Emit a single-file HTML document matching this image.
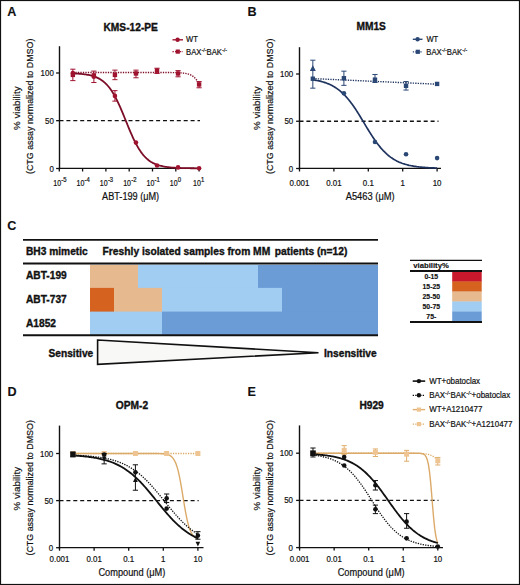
<!DOCTYPE html><html><head><meta charset="utf-8"><style>html,body{margin:0;padding:0;background:#fff;width:520px;height:585px;overflow:hidden}svg text{font-family:"Liberation Sans",sans-serif}</style></head><body><svg width="520" height="585" viewBox="0 0 520 585" style="display:block;font-family:'Liberation Sans', sans-serif">
<rect x="0" y="0" width="520" height="585" fill="#fff"/>
<text x="7.3" y="16.3" font-size="12.6" text-anchor="start" font-weight="bold" stroke="#111" stroke-width="0.1" fill="#111" >A</text>
<text x="130.7" y="30.6" font-size="10.2" text-anchor="middle" font-weight="bold" stroke="#111" stroke-width="0.35" fill="#111" >KMS-12-PE</text>
<text transform="translate(19.5,108.2) rotate(-90)" font-size="9.8" text-anchor="middle" fill="#111" stroke="#111" stroke-width="0.2" textLength="43.5" lengthAdjust="spacingAndGlyphs">% viability</text>
<text transform="translate(33.2,106.3) rotate(-90)" font-size="9.6" text-anchor="middle" fill="#111" stroke="#111" stroke-width="0.2" textLength="135.5" lengthAdjust="spacingAndGlyphs">(CTG assay normalized to DMSO)</text>
<line x1="59.5" y1="46.2" x2="59.5" y2="169.2" stroke="#111" stroke-width="1.4" />
<line x1="56.1" y1="168.5" x2="59.5" y2="168.5" stroke="#111" stroke-width="1.3" />
<text transform="translate(53.8,171.5) scale(0.88,1)" font-size="9" text-anchor="end" stroke="#111" stroke-width="0.2" fill="#111" >0</text>
<line x1="56.1" y1="120.67" x2="59.5" y2="120.67" stroke="#111" stroke-width="1.3" />
<text transform="translate(53.8,123.67) scale(0.88,1)" font-size="9" text-anchor="end" stroke="#111" stroke-width="0.2" fill="#111" >50</text>
<line x1="56.1" y1="73" x2="59.5" y2="73" stroke="#111" stroke-width="1.3" />
<text transform="translate(53.8,76) scale(0.88,1)" font-size="9" text-anchor="end" stroke="#111" stroke-width="0.2" fill="#111" >100</text>
<line x1="58.8" y1="168.4" x2="201" y2="168.4" stroke="#111" stroke-width="1.4" />
<line x1="59.3" y1="168.5" x2="59.3" y2="171.5" stroke="#111" stroke-width="1.3" />
<text transform="translate(61.1,185.8) scale(0.8,1)" font-size="8.8" text-anchor="end" stroke="#111" stroke-width="0.2" fill="#111" >10</text>
<text transform="translate(61.3,182.2) scale(0.9,1)" font-size="6.6" text-anchor="start" stroke="#111" stroke-width="0.2" fill="#111" >-5</text>
<line x1="82.6" y1="168.5" x2="82.6" y2="171.5" stroke="#111" stroke-width="1.3" />
<text transform="translate(84.4,185.8) scale(0.8,1)" font-size="8.8" text-anchor="end" stroke="#111" stroke-width="0.2" fill="#111" >10</text>
<text transform="translate(84.6,182.2) scale(0.9,1)" font-size="6.6" text-anchor="start" stroke="#111" stroke-width="0.2" fill="#111" >-4</text>
<line x1="105.9" y1="168.5" x2="105.9" y2="171.5" stroke="#111" stroke-width="1.3" />
<text transform="translate(107.7,185.8) scale(0.8,1)" font-size="8.8" text-anchor="end" stroke="#111" stroke-width="0.2" fill="#111" >10</text>
<text transform="translate(107.9,182.2) scale(0.9,1)" font-size="6.6" text-anchor="start" stroke="#111" stroke-width="0.2" fill="#111" >-3</text>
<line x1="129.2" y1="168.5" x2="129.2" y2="171.5" stroke="#111" stroke-width="1.3" />
<text transform="translate(131,185.8) scale(0.8,1)" font-size="8.8" text-anchor="end" stroke="#111" stroke-width="0.2" fill="#111" >10</text>
<text transform="translate(131.2,182.2) scale(0.9,1)" font-size="6.6" text-anchor="start" stroke="#111" stroke-width="0.2" fill="#111" >-2</text>
<line x1="152.5" y1="168.5" x2="152.5" y2="171.5" stroke="#111" stroke-width="1.3" />
<text transform="translate(154.3,185.8) scale(0.8,1)" font-size="8.8" text-anchor="end" stroke="#111" stroke-width="0.2" fill="#111" >10</text>
<text transform="translate(154.5,182.2) scale(0.9,1)" font-size="6.6" text-anchor="start" stroke="#111" stroke-width="0.2" fill="#111" >-1</text>
<line x1="175.8" y1="168.5" x2="175.8" y2="171.5" stroke="#111" stroke-width="1.3" />
<text transform="translate(177.6,185.8) scale(0.8,1)" font-size="8.8" text-anchor="end" stroke="#111" stroke-width="0.2" fill="#111" >10</text>
<text transform="translate(177.8,182.2) scale(0.9,1)" font-size="6.6" text-anchor="start" stroke="#111" stroke-width="0.2" fill="#111" >0</text>
<line x1="199.1" y1="168.5" x2="199.1" y2="171.5" stroke="#111" stroke-width="1.3" />
<text transform="translate(200.9,185.8) scale(0.8,1)" font-size="8.8" text-anchor="end" stroke="#111" stroke-width="0.2" fill="#111" >10</text>
<text transform="translate(201.1,182.2) scale(0.9,1)" font-size="6.6" text-anchor="start" stroke="#111" stroke-width="0.2" fill="#111" >1</text>
<text x="130.6" y="199.8" font-size="10.0" text-anchor="middle" stroke="#111" stroke-width="0.2" fill="#111" textLength="57" lengthAdjust="spacingAndGlyphs">ABT-199 (μM)</text>
<line x1="59.5" y1="120.67" x2="200" y2="120.67" stroke="#111" stroke-width="1.35" stroke-dasharray="4,2.9"/>
<path d="M72.85,72.52 L73.9,72.52 L74.95,72.52 L76,72.52 L77.06,72.52 L78.11,72.52 L79.16,72.52 L80.21,72.52 L81.26,72.52 L82.32,72.52 L83.37,72.52 L84.42,72.52 L85.47,72.52 L86.53,72.52 L87.58,72.52 L88.63,72.52 L89.68,72.52 L90.73,72.52 L91.79,72.52 L92.84,72.52 L93.89,72.52 L94.94,72.52 L95.99,72.52 L97.05,72.52 L98.1,72.52 L99.15,72.52 L100.2,72.52 L101.25,72.52 L102.31,72.52 L103.36,72.52 L104.41,72.52 L105.46,72.52 L106.52,72.52 L107.57,72.52 L108.62,72.52 L109.67,72.52 L110.72,72.52 L111.78,72.52 L112.83,72.52 L113.88,72.52 L114.93,72.52 L115.98,72.52 L117.04,72.52 L118.09,72.52 L119.14,72.52 L120.19,72.52 L121.24,72.52 L122.3,72.52 L123.35,72.52 L124.4,72.52 L125.45,72.52 L126.51,72.52 L127.56,72.52 L128.61,72.52 L129.66,72.52 L130.71,72.52 L131.77,72.52 L132.82,72.52 L133.87,72.52 L134.92,72.52 L135.97,72.52 L137.03,72.52 L138.08,72.52 L139.13,72.52 L140.18,72.52 L141.23,72.52 L142.29,72.52 L143.34,72.52 L144.39,72.52 L145.44,72.52 L146.5,72.52 L147.55,72.52 L148.6,72.52 L149.65,72.52 L150.7,72.52 L151.76,72.52 L152.81,72.52 L153.86,72.52 L154.91,72.53 L155.96,72.53 L157.02,72.53 L158.07,72.53 L159.12,72.53 L160.17,72.53 L161.22,72.53 L162.28,72.53 L163.33,72.53 L164.38,72.54 L165.43,72.54 L166.48,72.54 L167.54,72.55 L168.59,72.55 L169.64,72.56 L170.69,72.57 L171.75,72.58 L172.8,72.6 L173.85,72.61 L174.9,72.63 L175.95,72.66 L177.01,72.69 L178.06,72.73 L179.11,72.78 L180.16,72.83 L181.21,72.9 L182.27,72.99 L183.32,73.1 L184.37,73.23 L185.42,73.4 L186.47,73.6 L187.53,73.84 L188.58,74.14 L189.63,74.5 L190.68,74.95 L191.74,75.49 L192.79,76.16 L193.84,76.96 L194.89,77.92 L195.94,79.09 L197,80.48 L198.05,82.13 L199.1,84.08" fill="none" stroke="#7c0d27" stroke-width="1.4" stroke-dasharray="1.3,1.2" stroke-linecap="butt"/>
<path d="M72.85,73.39 L73.9,73.44 L74.95,73.48 L76,73.54 L77.06,73.6 L78.11,73.67 L79.16,73.75 L80.21,73.83 L81.26,73.93 L82.32,74.04 L83.37,74.15 L84.42,74.28 L85.47,74.43 L86.53,74.59 L87.58,74.77 L88.63,74.97 L89.68,75.2 L90.73,75.44 L91.79,75.72 L92.84,76.02 L93.89,76.36 L94.94,76.73 L95.99,77.14 L97.05,77.59 L98.1,78.09 L99.15,78.65 L100.2,79.26 L101.25,79.93 L102.31,80.66 L103.36,81.47 L104.41,82.35 L105.46,83.31 L106.52,84.36 L107.57,85.49 L108.62,86.73 L109.67,88.06 L110.72,89.5 L111.78,91.04 L112.83,92.69 L113.88,94.45 L114.93,96.32 L115.98,98.3 L117.04,100.38 L118.09,102.56 L119.14,104.83 L120.19,107.18 L121.24,109.61 L122.3,112.1 L123.35,114.64 L124.4,117.22 L125.45,119.82 L126.51,122.42 L127.56,125.01 L128.61,127.58 L129.66,130.1 L130.71,132.57 L131.77,134.98 L132.82,137.3 L133.87,139.55 L134.92,141.69 L135.97,143.74 L137.03,145.68 L138.08,147.51 L139.13,149.23 L140.18,150.85 L141.23,152.35 L142.29,153.75 L143.34,155.05 L144.39,156.25 L145.44,157.36 L146.5,158.38 L147.55,159.31 L148.6,160.17 L149.65,160.95 L150.7,161.66 L151.76,162.31 L152.81,162.9 L153.86,163.43 L154.91,163.92 L155.96,164.36 L157.02,164.75 L158.07,165.11 L159.12,165.44 L160.17,165.73 L161.22,165.99 L162.28,166.23 L163.33,166.45 L164.38,166.64 L165.43,166.81 L166.48,166.97 L167.54,167.11 L168.59,167.24 L169.64,167.35 L170.69,167.45 L171.75,167.55 L172.8,167.63 L173.85,167.7 L174.9,167.77 L175.95,167.83 L177.01,167.88 L178.06,167.93 L179.11,167.97 L180.16,168.01 L181.21,168.05 L182.27,168.08 L183.32,168.11 L184.37,168.13 L185.42,168.15 L186.47,168.17 L187.53,168.19 L188.58,168.21 L189.63,168.22 L190.68,168.24 L191.74,168.25 L192.79,168.26 L193.84,168.27 L194.89,168.28 L195.94,168.28 L197,168.29 L198.05,168.3 L199.1,168.3" fill="none" stroke="#7c0d27" stroke-width="1.8" stroke-linecap="butt"/>
<line x1="72.85" y1="80.63" x2="72.85" y2="69.19" stroke="#a0132f" stroke-width="1.0" />
<line x1="70.25" y1="80.63" x2="75.45" y2="80.63" stroke="#a0132f" stroke-width="1.0" />
<line x1="70.25" y1="69.19" x2="75.45" y2="69.19" stroke="#a0132f" stroke-width="1.0" />
<rect x="70.65" y="72.71" width="4.4" height="4.4" fill="#a0132f"/>
<circle cx="72.85" cy="73" r="2.3" fill="#a0132f"/>
<line x1="93.89" y1="82.53" x2="93.89" y2="71.09" stroke="#a0132f" stroke-width="1.0" />
<line x1="91.29" y1="82.53" x2="96.49" y2="82.53" stroke="#a0132f" stroke-width="1.0" />
<line x1="91.29" y1="71.09" x2="96.49" y2="71.09" stroke="#a0132f" stroke-width="1.0" />
<rect x="91.69" y="73.18" width="4.4" height="4.4" fill="#a0132f"/>
<circle cx="93.89" cy="76.81" r="2.3" fill="#a0132f"/>
<line x1="114.93" y1="79.67" x2="114.93" y2="70.14" stroke="#a0132f" stroke-width="1.0" />
<line x1="112.33" y1="79.67" x2="117.53" y2="79.67" stroke="#a0132f" stroke-width="1.0" />
<line x1="112.33" y1="70.14" x2="117.53" y2="70.14" stroke="#a0132f" stroke-width="1.0" />
<rect x="112.73" y="72.71" width="4.4" height="4.4" fill="#a0132f"/>
<line x1="114.93" y1="101.13" x2="114.93" y2="90.64" stroke="#a0132f" stroke-width="1.0" />
<line x1="112.33" y1="101.13" x2="117.53" y2="101.13" stroke="#a0132f" stroke-width="1.0" />
<line x1="112.33" y1="90.64" x2="117.53" y2="90.64" stroke="#a0132f" stroke-width="1.0" />
<circle cx="114.93" cy="95.88" r="2.3" fill="#a0132f"/>
<line x1="135.97" y1="77.77" x2="135.97" y2="70.14" stroke="#a0132f" stroke-width="1.0" />
<line x1="133.37" y1="77.77" x2="138.57" y2="77.77" stroke="#a0132f" stroke-width="1.0" />
<line x1="133.37" y1="70.14" x2="138.57" y2="70.14" stroke="#a0132f" stroke-width="1.0" />
<rect x="133.77" y="71.28" width="4.4" height="4.4" fill="#a0132f"/>
<circle cx="135.97" cy="142.61" r="2.3" fill="#a0132f"/>
<line x1="157.02" y1="73.48" x2="157.02" y2="68.23" stroke="#a0132f" stroke-width="1.0" />
<line x1="154.42" y1="73.48" x2="159.62" y2="73.48" stroke="#a0132f" stroke-width="1.0" />
<line x1="154.42" y1="68.23" x2="159.62" y2="68.23" stroke="#a0132f" stroke-width="1.0" />
<rect x="154.82" y="68.42" width="4.4" height="4.4" fill="#a0132f"/>
<circle cx="157.02" cy="165.49" r="2.3" fill="#a0132f"/>
<line x1="178.06" y1="76.81" x2="178.06" y2="70.62" stroke="#a0132f" stroke-width="1.0" />
<line x1="175.46" y1="76.81" x2="180.66" y2="76.81" stroke="#a0132f" stroke-width="1.0" />
<line x1="175.46" y1="70.62" x2="180.66" y2="70.62" stroke="#a0132f" stroke-width="1.0" />
<rect x="175.86" y="71.28" width="4.4" height="4.4" fill="#a0132f"/>
<circle cx="178.06" cy="167.4" r="2.3" fill="#a0132f"/>
<line x1="199.1" y1="87.78" x2="199.1" y2="81.58" stroke="#a0132f" stroke-width="1.0" />
<line x1="196.5" y1="87.78" x2="201.7" y2="87.78" stroke="#a0132f" stroke-width="1.0" />
<line x1="196.5" y1="81.58" x2="201.7" y2="81.58" stroke="#a0132f" stroke-width="1.0" />
<rect x="196.9" y="82.24" width="4.4" height="4.4" fill="#a0132f"/>
<circle cx="199.1" cy="168.35" r="2.3" fill="#a0132f"/>
<line x1="172.5" y1="39.8" x2="183" y2="39.8" stroke="#a0132f" stroke-width="1.4" />
<circle cx="177.6" cy="39.8" r="2.2" fill="#a0132f"/>
<text transform="translate(186,42.3) scale(0.93,1)" font-size="8.2" text-anchor="start" stroke="#111" stroke-width="0.2" fill="#111" >WT</text>
<line x1="172.5" y1="51.6" x2="183" y2="51.6" stroke="#a0132f" stroke-width="1.3" stroke-dasharray="1.3,1.2"/>
<rect x="175.7" y="49.5" width="4.2" height="4.2" fill="#a0132f"/>
<text transform="translate(186,54.8) scale(0.94,1)" font-size="8.2" fill="#111" stroke="#111" stroke-width="0.2">BAX<tspan font-size="5.82" dy="-2.95">-/-</tspan><tspan font-size="8.2" dy="2.95">BAK</tspan><tspan font-size="5.82" dy="-2.95">-/-</tspan><tspan font-size="8.2" dy="2.95"></tspan></text>
<text x="247.5" y="16.3" font-size="12.6" text-anchor="start" font-weight="bold" stroke="#111" stroke-width="0.1" fill="#111" >B</text>
<text x="371.2" y="30.4" font-size="10.2" text-anchor="middle" font-weight="bold" stroke="#111" stroke-width="0.35" fill="#111" >MM1S</text>
<text transform="translate(259.5,108.2) rotate(-90)" font-size="9.8" text-anchor="middle" fill="#111" stroke="#111" stroke-width="0.2" textLength="43.5" lengthAdjust="spacingAndGlyphs">% viability</text>
<text transform="translate(273.2,106.3) rotate(-90)" font-size="9.6" text-anchor="middle" fill="#111" stroke="#111" stroke-width="0.2" textLength="135.5" lengthAdjust="spacingAndGlyphs">(CTG assay normalized to DMSO)</text>
<line x1="299.5" y1="47.2" x2="299.5" y2="169.2" stroke="#111" stroke-width="1.4" />
<line x1="296.1" y1="168.5" x2="299.5" y2="168.5" stroke="#111" stroke-width="1.3" />
<text transform="translate(293.2,171.5) scale(0.88,1)" font-size="9" text-anchor="end" stroke="#111" stroke-width="0.2" fill="#111" >0</text>
<line x1="296.1" y1="121.25" x2="299.5" y2="121.25" stroke="#111" stroke-width="1.3" />
<text transform="translate(293.2,124.25) scale(0.88,1)" font-size="9" text-anchor="end" stroke="#111" stroke-width="0.2" fill="#111" >50</text>
<line x1="296.1" y1="74" x2="299.5" y2="74" stroke="#111" stroke-width="1.3" />
<text transform="translate(293.2,77) scale(0.88,1)" font-size="9" text-anchor="end" stroke="#111" stroke-width="0.2" fill="#111" >100</text>
<line x1="298.8" y1="168.4" x2="441" y2="168.4" stroke="#111" stroke-width="1.4" />
<line x1="299.5" y1="168.5" x2="299.5" y2="171.5" stroke="#111" stroke-width="1.3" />
<text transform="translate(299.5,185.8) scale(0.9,1)" font-size="8.8" text-anchor="middle" stroke="#111" stroke-width="0.2" fill="#111" >0.001</text>
<line x1="333.9" y1="168.5" x2="333.9" y2="171.5" stroke="#111" stroke-width="1.3" />
<text transform="translate(333.9,185.8) scale(0.9,1)" font-size="8.8" text-anchor="middle" stroke="#111" stroke-width="0.2" fill="#111" >0.01</text>
<line x1="368.3" y1="168.5" x2="368.3" y2="171.5" stroke="#111" stroke-width="1.3" />
<text transform="translate(368.3,185.8) scale(0.9,1)" font-size="8.8" text-anchor="middle" stroke="#111" stroke-width="0.2" fill="#111" >0.1</text>
<line x1="402.7" y1="168.5" x2="402.7" y2="171.5" stroke="#111" stroke-width="1.3" />
<text transform="translate(402.7,185.8) scale(0.9,1)" font-size="8.8" text-anchor="middle" stroke="#111" stroke-width="0.2" fill="#111" >1</text>
<line x1="437.1" y1="168.5" x2="437.1" y2="171.5" stroke="#111" stroke-width="1.3" />
<text transform="translate(437.1,185.8) scale(0.9,1)" font-size="8.8" text-anchor="middle" stroke="#111" stroke-width="0.2" fill="#111" >10</text>
<text x="370.2" y="199.8" font-size="10.0" text-anchor="middle" stroke="#111" stroke-width="0.2" fill="#111" textLength="49" lengthAdjust="spacingAndGlyphs">A5463 (μM)</text>
<line x1="299.5" y1="121.25" x2="438.5" y2="121.25" stroke="#111" stroke-width="1.35" stroke-dasharray="4,2.9"/>
<path d="M312.83,78.6 L437.1,84.2" stroke="#1f335f" stroke-width="1.4" stroke-dasharray="1.3,1.2" fill="none"/>
<path d="M312.83,79.8 L313.87,79.96 L314.91,80.13 L315.94,80.31 L316.98,80.5 L318.01,80.71 L319.05,80.94 L320.08,81.18 L321.12,81.44 L322.15,81.71 L323.19,82.01 L324.23,82.33 L325.26,82.67 L326.3,83.04 L327.33,83.43 L328.37,83.84 L329.4,84.29 L330.44,84.77 L331.47,85.27 L332.51,85.81 L333.55,86.39 L334.58,87 L335.62,87.66 L336.65,88.35 L337.69,89.08 L338.72,89.86 L339.76,90.68 L340.79,91.54 L341.83,92.46 L342.87,93.42 L343.9,94.43 L344.94,95.49 L345.97,96.6 L347.01,97.77 L348.04,98.98 L349.08,100.24 L350.11,101.56 L351.15,102.92 L352.19,104.33 L353.22,105.78 L354.26,107.28 L355.29,108.82 L356.33,110.39 L357.36,112 L358.4,113.64 L359.43,115.31 L360.47,117 L361.51,118.7 L362.54,120.42 L363.58,122.15 L364.61,123.87 L365.65,125.6 L366.68,127.32 L367.72,129.03 L368.75,130.72 L369.79,132.39 L370.83,134.03 L371.86,135.65 L372.9,137.23 L373.93,138.77 L374.97,140.27 L376,141.74 L377.04,143.15 L378.07,144.52 L379.11,145.84 L380.15,147.11 L381.18,148.33 L382.22,149.5 L383.25,150.62 L384.29,151.69 L385.32,152.71 L386.36,153.68 L387.39,154.6 L388.43,155.48 L389.47,156.3 L390.5,157.09 L391.54,157.83 L392.57,158.52 L393.61,159.18 L394.64,159.8 L395.68,160.38 L396.71,160.93 L397.75,161.44 L398.78,161.92 L399.82,162.37 L400.86,162.79 L401.89,163.19 L402.93,163.56 L403.96,163.9 L405,164.22 L406.03,164.52 L407.07,164.8 L408.1,165.06 L409.14,165.31 L410.18,165.53 L411.21,165.74 L412.25,165.94 L413.28,166.12 L414.32,166.29 L415.35,166.45 L416.39,166.6 L417.42,166.74 L418.46,166.86 L419.5,166.98 L420.53,167.09 L421.57,167.19 L422.6,167.29 L423.64,167.38 L424.67,167.46 L425.71,167.53 L426.74,167.6 L427.78,167.67 L428.82,167.73 L429.85,167.79 L430.89,167.84 L431.92,167.89 L432.96,167.93 L433.99,167.97 L435.03,168.01 L436.06,168.05 L437.1,168.08" fill="none" stroke="#1f335f" stroke-width="1.7" stroke-linecap="butt"/>
<line x1="312.83" y1="88.17" x2="312.83" y2="60.2" stroke="#2a4775" stroke-width="1.0" />
<line x1="310.23" y1="88.17" x2="315.43" y2="88.17" stroke="#2a4775" stroke-width="1.0" />
<line x1="310.23" y1="60.2" x2="315.43" y2="60.2" stroke="#2a4775" stroke-width="1.0" />
<rect x="310.63" y="76.53" width="4.4" height="4.4" fill="#2a4775"/>
<line x1="343.9" y1="85.34" x2="343.9" y2="71.17" stroke="#2a4775" stroke-width="1.0" />
<line x1="341.3" y1="85.34" x2="346.5" y2="85.34" stroke="#2a4775" stroke-width="1.0" />
<line x1="341.3" y1="71.17" x2="346.5" y2="71.17" stroke="#2a4775" stroke-width="1.0" />
<rect x="341.7" y="76.05" width="4.4" height="4.4" fill="#2a4775"/>
<circle cx="343.9" cy="93.37" r="2.3" fill="#2a4775"/>
<line x1="374.97" y1="82.51" x2="374.97" y2="74.47" stroke="#2a4775" stroke-width="1.0" />
<line x1="372.37" y1="82.51" x2="377.57" y2="82.51" stroke="#2a4775" stroke-width="1.0" />
<line x1="372.37" y1="74.47" x2="377.57" y2="74.47" stroke="#2a4775" stroke-width="1.0" />
<rect x="372.77" y="77.47" width="4.4" height="4.4" fill="#2a4775"/>
<circle cx="374.97" cy="142.04" r="2.3" fill="#2a4775"/>
<line x1="406.03" y1="90.06" x2="406.03" y2="81.56" stroke="#2a4775" stroke-width="1.0" />
<line x1="403.43" y1="90.06" x2="408.63" y2="90.06" stroke="#2a4775" stroke-width="1.0" />
<line x1="403.43" y1="81.56" x2="408.63" y2="81.56" stroke="#2a4775" stroke-width="1.0" />
<rect x="403.83" y="83.61" width="4.4" height="4.4" fill="#2a4775"/>
<circle cx="406.03" cy="154.32" r="2.3" fill="#2a4775"/>
<rect x="434.9" y="81.72" width="4.4" height="4.4" fill="#2a4775"/>
<circle cx="437.1" cy="158.1" r="2.3" fill="#2a4775"/>
<path d="M312.83,65.13 L315.83,71.03 L309.83,71.03 Z" fill="#2a4775"/>
<line x1="412.8" y1="39.3" x2="422.5" y2="39.3" stroke="#2a4775" stroke-width="1.4" />
<circle cx="417.6" cy="39.3" r="2.2" fill="#2a4775"/>
<text transform="translate(426.4,42.3) scale(0.93,1)" font-size="8.2" text-anchor="start" stroke="#111" stroke-width="0.2" fill="#111" >WT</text>
<line x1="412.8" y1="51.8" x2="422.5" y2="51.8" stroke="#2a4775" stroke-width="1.3" stroke-dasharray="1.3,1.2"/>
<rect x="415.7" y="49.7" width="4.2" height="4.2" fill="#2a4775"/>
<text transform="translate(426.3,55) scale(0.94,1)" font-size="8.2" fill="#111" stroke="#111" stroke-width="0.2">BAX<tspan font-size="5.82" dy="-2.95">-/-</tspan><tspan font-size="8.2" dy="2.95">BAK</tspan><tspan font-size="5.82" dy="-2.95">-/-</tspan><tspan font-size="8.2" dy="2.95"></tspan></text>
<text x="7.2" y="230.4" font-size="12.6" text-anchor="start" font-weight="bold" stroke="#111" stroke-width="0.1" fill="#111" >C</text>
<line x1="23" y1="239.9" x2="378" y2="239.9" stroke="#111" stroke-width="1.8" />
<text x="26" y="255.2" font-size="10.2" text-anchor="start" font-weight="bold" stroke="#111" stroke-width="0.35" fill="#111" >BH3 mimetic</text>
<text x="102.6" y="255.2" font-size="10.3" text-anchor="start" font-weight="bold" stroke="#111" stroke-width="0.35" fill="#111" textLength="167.6" lengthAdjust="spacingAndGlyphs">Freshly isolated samples from MM</text>
<text x="274.8" y="255.2" font-size="10.3" text-anchor="start" font-weight="bold" stroke="#111" stroke-width="0.35" fill="#111" textLength="72.6" lengthAdjust="spacingAndGlyphs">patients (n=12)</text>
<rect x="90" y="264.8" width="288" height="69.80000000000001" fill="#6c9cd6"/>
<rect x="90" y="264.8" width="48" height="23.9" fill="#e6b98f"/>
<rect x="138" y="264.8" width="120" height="23.9" fill="#a0cdf1"/>
<rect x="90" y="287.9" width="24" height="24.5" fill="#d5621f"/>
<rect x="114" y="287.9" width="48" height="24.5" fill="#e6b98f"/>
<rect x="162" y="287.9" width="120" height="24.5" fill="#a0cdf1"/>
<rect x="90" y="311.6" width="72" height="23" fill="#a0cdf1"/>
<rect x="162" y="311.6" width="216" height="23" fill="#6c9cd6"/>
<line x1="23" y1="263.6" x2="378" y2="263.6" stroke="#111" stroke-width="2.0" />
<line x1="23" y1="335.3" x2="378" y2="335.3" stroke="#111" stroke-width="2.0" />
<text x="26" y="278.8" font-size="10.2" text-anchor="start" font-weight="bold" stroke="#111" stroke-width="0.35" fill="#111" >ABT-199</text>
<text x="26" y="302.8" font-size="10.2" text-anchor="start" font-weight="bold" stroke="#111" stroke-width="0.35" fill="#111" >ABT-737</text>
<text x="26" y="327" font-size="10.2" text-anchor="start" font-weight="bold" stroke="#111" stroke-width="0.35" fill="#111" >A1852</text>
<text x="48.5" y="357" font-size="10.2" text-anchor="start" font-weight="bold" stroke="#111" stroke-width="0.35" fill="#111" >Sensitive</text>
<text x="324" y="357" font-size="10.2" text-anchor="start" font-weight="bold" stroke="#111" stroke-width="0.35" fill="#111" >Insensitive</text>
<path d="M97.6,340 L318.5,352.7 L97.6,364.3 Z" fill="#f8f8f7" stroke="#111" stroke-width="1.6" stroke-linejoin="miter"/>
<line x1="410" y1="260.4" x2="482" y2="260.4" stroke="#111" stroke-width="1.4" />
<text x="413.3" y="268.2" font-size="7.7" text-anchor="start" font-weight="bold" stroke="#111" stroke-width="0.15" fill="#111" >viability%</text>
<rect x="452.2" y="271.5" width="29.5" height="10.3" fill="#c8182c"/>
<text x="431.3" y="278.7" font-size="6.9" text-anchor="middle" font-weight="bold" stroke="#111" stroke-width="0.15" fill="#111" >0-15</text>
<rect x="452.2" y="281.5" width="29.5" height="10.3" fill="#d5621f"/>
<text x="431.3" y="288.7" font-size="6.9" text-anchor="middle" font-weight="bold" stroke="#111" stroke-width="0.15" fill="#111" >15-25</text>
<rect x="452.2" y="291.5" width="29.5" height="10.3" fill="#e6b98f"/>
<text x="431.3" y="298.7" font-size="6.9" text-anchor="middle" font-weight="bold" stroke="#111" stroke-width="0.15" fill="#111" >25-50</text>
<rect x="452.2" y="301.5" width="29.5" height="10.3" fill="#a0cdf1"/>
<text x="431.3" y="308.7" font-size="6.9" text-anchor="middle" font-weight="bold" stroke="#111" stroke-width="0.15" fill="#111" >50-75</text>
<rect x="452.2" y="311.5" width="29.5" height="10.3" fill="#6c9cd6"/>
<text x="431.3" y="318.7" font-size="6.9" text-anchor="middle" font-weight="bold" stroke="#111" stroke-width="0.15" fill="#111" >75-</text>
<line x1="410" y1="271" x2="482" y2="271" stroke="#111" stroke-width="1.8" />
<line x1="410" y1="322" x2="482" y2="322" stroke="#111" stroke-width="1.8" />
<text x="7.5" y="396.4" font-size="12.6" text-anchor="start" font-weight="bold" stroke="#111" stroke-width="0.1" fill="#111" >D</text>
<text x="132" y="408.8" font-size="10.2" text-anchor="middle" font-weight="bold" stroke="#111" stroke-width="0.35" fill="#111" >OPM-2</text>
<text transform="translate(20,488.7) rotate(-90)" font-size="9.8" text-anchor="middle" fill="#111" stroke="#111" stroke-width="0.2" textLength="43.5" lengthAdjust="spacingAndGlyphs">% viability</text>
<text transform="translate(33.2,487.8) rotate(-90)" font-size="9.6" text-anchor="middle" fill="#111" stroke="#111" stroke-width="0.2" textLength="135.5" lengthAdjust="spacingAndGlyphs">(CTG assay normalized to DMSO)</text>
<line x1="59.5" y1="425.6" x2="59.5" y2="548.4" stroke="#111" stroke-width="1.4" />
<line x1="56.1" y1="547.7" x2="59.5" y2="547.7" stroke="#111" stroke-width="1.3" />
<text transform="translate(53.2,550.7) scale(0.88,1)" font-size="9" text-anchor="end" stroke="#111" stroke-width="0.2" fill="#111" >0</text>
<line x1="56.1" y1="500.6" x2="59.5" y2="500.6" stroke="#111" stroke-width="1.3" />
<text transform="translate(53.2,503.6) scale(0.88,1)" font-size="9" text-anchor="end" stroke="#111" stroke-width="0.2" fill="#111" >50</text>
<line x1="56.1" y1="453.5" x2="59.5" y2="453.5" stroke="#111" stroke-width="1.3" />
<text transform="translate(53.2,456.5) scale(0.88,1)" font-size="9" text-anchor="end" stroke="#111" stroke-width="0.2" fill="#111" >100</text>
<line x1="58.8" y1="547.6" x2="203.5" y2="547.6" stroke="#111" stroke-width="1.4" />
<line x1="59.5" y1="547.7" x2="59.5" y2="550.7" stroke="#111" stroke-width="1.3" />
<text transform="translate(59.5,561.8) scale(0.9,1)" font-size="8.8" text-anchor="middle" stroke="#111" stroke-width="0.2" fill="#111" >0.001</text>
<line x1="94.1" y1="547.7" x2="94.1" y2="550.7" stroke="#111" stroke-width="1.3" />
<text transform="translate(94.1,561.8) scale(0.9,1)" font-size="8.8" text-anchor="middle" stroke="#111" stroke-width="0.2" fill="#111" >0.01</text>
<line x1="128.7" y1="547.7" x2="128.7" y2="550.7" stroke="#111" stroke-width="1.3" />
<text transform="translate(128.7,561.8) scale(0.9,1)" font-size="8.8" text-anchor="middle" stroke="#111" stroke-width="0.2" fill="#111" >0.1</text>
<line x1="163.3" y1="547.7" x2="163.3" y2="550.7" stroke="#111" stroke-width="1.3" />
<text transform="translate(163.3,561.8) scale(0.9,1)" font-size="8.8" text-anchor="middle" stroke="#111" stroke-width="0.2" fill="#111" >1</text>
<line x1="197.9" y1="547.7" x2="197.9" y2="550.7" stroke="#111" stroke-width="1.3" />
<text transform="translate(197.9,561.8) scale(0.9,1)" font-size="8.8" text-anchor="middle" stroke="#111" stroke-width="0.2" fill="#111" >10</text>
<text x="131.9" y="576.2" font-size="10.0" text-anchor="middle" stroke="#111" stroke-width="0.2" fill="#111" textLength="67" lengthAdjust="spacingAndGlyphs">Compound (μM)</text>
<line x1="59.5" y1="500.6" x2="198.7" y2="500.6" stroke="#111" stroke-width="1.35" stroke-dasharray="4,2.9"/>
<path d="M72.91,453.5 L73.95,453.5 L75,453.5 L76.04,453.5 L77.08,453.5 L78.12,453.5 L79.16,453.5 L80.2,453.5 L81.24,453.5 L82.29,453.5 L83.33,453.5 L84.37,453.5 L85.41,453.5 L86.45,453.5 L87.49,453.5 L88.54,453.5 L89.58,453.5 L90.62,453.5 L91.66,453.5 L92.7,453.5 L93.74,453.5 L94.79,453.5 L95.83,453.5 L96.87,453.5 L97.91,453.5 L98.95,453.5 L99.99,453.5 L101.03,453.5 L102.08,453.5 L103.12,453.5 L104.16,453.5 L105.2,453.5 L106.24,453.5 L107.28,453.5 L108.33,453.5 L109.37,453.5 L110.41,453.5 L111.45,453.5 L112.49,453.5 L113.53,453.5 L114.57,453.5 L115.62,453.5 L116.66,453.5 L117.7,453.5 L118.74,453.5 L119.78,453.5 L120.82,453.5 L121.87,453.5 L122.91,453.5 L123.95,453.5 L124.99,453.5 L126.03,453.5 L127.07,453.5 L128.12,453.5 L129.16,453.5 L130.2,453.5 L131.24,453.5 L132.28,453.5 L133.32,453.5 L134.36,453.5 L135.41,453.5 L136.45,453.5 L137.49,453.5 L138.53,453.5 L139.57,453.5 L140.61,453.5 L141.66,453.5 L142.7,453.5 L143.74,453.5 L144.78,453.5 L145.82,453.5 L146.86,453.5 L147.9,453.5 L148.95,453.5 L149.99,453.5 L151.03,453.5 L152.07,453.5 L153.11,453.5 L154.15,453.5 L155.2,453.5 L156.24,453.5 L157.28,453.5 L158.32,453.5 L159.36,453.5 L160.4,453.5 L161.45,453.5 L162.49,453.5 L163.53,453.5 L164.57,453.5 L165.61,453.5 L166.65,453.5 L167.69,453.5 L168.74,453.5 L169.78,453.5 L170.82,453.5 L171.86,453.5 L172.9,453.5 L173.94,453.5 L174.99,453.5 L176.03,453.5 L177.07,453.5 L178.11,453.5 L179.15,453.5 L180.19,453.5 L181.23,453.5 L182.28,453.5 L183.32,453.5 L184.36,453.5 L185.4,453.5 L186.44,453.5 L187.48,453.5 L188.53,453.5 L189.57,453.5 L190.61,453.5 L191.65,453.5 L192.69,453.5 L193.73,453.5 L194.78,453.5 L195.82,453.5 L196.86,453.5 L197.9,453.5" fill="none" stroke="#dcaa68" stroke-width="1.3" stroke-dasharray="1.3,1.2" stroke-linecap="butt"/>
<path d="M72.91,453.5 L73.95,453.5 L75,453.5 L76.04,453.5 L77.08,453.5 L78.12,453.5 L79.16,453.5 L80.2,453.5 L81.24,453.5 L82.29,453.5 L83.33,453.5 L84.37,453.5 L85.41,453.5 L86.45,453.5 L87.49,453.5 L88.54,453.5 L89.58,453.5 L90.62,453.5 L91.66,453.5 L92.7,453.5 L93.74,453.5 L94.79,453.5 L95.83,453.5 L96.87,453.5 L97.91,453.5 L98.95,453.5 L99.99,453.5 L101.03,453.5 L102.08,453.5 L103.12,453.5 L104.16,453.5 L105.2,453.5 L106.24,453.5 L107.28,453.5 L108.33,453.5 L109.37,453.5 L110.41,453.5 L111.45,453.5 L112.49,453.5 L113.53,453.5 L114.57,453.5 L115.62,453.5 L116.66,453.5 L117.7,453.5 L118.74,453.5 L119.78,453.5 L120.82,453.5 L121.87,453.5 L122.91,453.5 L123.95,453.5 L124.99,453.5 L126.03,453.5 L127.07,453.5 L128.12,453.5 L129.16,453.5 L130.2,453.5 L131.24,453.5 L132.28,453.5 L133.32,453.5 L134.36,453.5 L135.41,453.5 L136.45,453.5 L137.49,453.5 L138.53,453.5 L139.57,453.5 L140.61,453.5 L141.66,453.5 L142.7,453.5 L143.74,453.5 L144.78,453.5 L145.82,453.5 L146.86,453.5 L147.9,453.5 L148.95,453.51 L149.99,453.51 L151.03,453.51 L152.07,453.51 L153.11,453.52 L154.15,453.52 L155.2,453.53 L156.24,453.54 L157.28,453.56 L158.32,453.57 L159.36,453.6 L160.4,453.63 L161.45,453.68 L162.49,453.74 L163.53,453.83 L164.57,453.94 L165.61,454.09 L166.65,454.3 L167.69,454.57 L168.74,454.94 L169.78,455.43 L170.82,456.08 L171.86,456.94 L172.9,458.07 L173.94,459.54 L174.99,461.44 L176.03,463.87 L177.07,466.92 L178.11,470.65 L179.15,475.12 L180.19,480.31 L181.23,486.12 L182.28,492.36 L183.32,498.8 L184.36,505.16 L185.4,511.16 L186.44,516.6 L187.48,521.36 L188.53,525.38 L189.57,528.68 L190.61,531.34 L191.65,533.44 L192.69,535.07 L193.73,536.33 L194.78,537.28 L195.82,538.01 L196.86,538.55 L197.9,538.96" fill="none" stroke="#dcaa68" stroke-width="1.4" stroke-linecap="butt"/>
<path d="M72.91,455.15 L73.95,455.19 L75,455.23 L76.04,455.28 L77.08,455.33 L78.12,455.38 L79.16,455.43 L80.2,455.48 L81.24,455.54 L82.29,455.61 L83.33,455.67 L84.37,455.74 L85.41,455.81 L86.45,455.89 L87.49,455.97 L88.54,456.06 L89.58,456.15 L90.62,456.24 L91.66,456.34 L92.7,456.45 L93.74,456.56 L94.79,456.68 L95.83,456.8 L96.87,456.93 L97.91,457.07 L98.95,457.22 L99.99,457.37 L101.03,457.53 L102.08,457.7 L103.12,457.88 L104.16,458.07 L105.2,458.27 L106.24,458.48 L107.28,458.7 L108.33,458.93 L109.37,459.17 L110.41,459.42 L111.45,459.69 L112.49,459.97 L113.53,460.27 L114.57,460.58 L115.62,460.91 L116.66,461.25 L117.7,461.61 L118.74,461.98 L119.78,462.38 L120.82,462.79 L121.87,463.22 L122.91,463.67 L123.95,464.14 L124.99,464.63 L126.03,465.15 L127.07,465.68 L128.12,466.24 L129.16,466.83 L130.2,467.44 L131.24,468.07 L132.28,468.73 L133.32,469.41 L134.36,470.12 L135.41,470.86 L136.45,471.62 L137.49,472.41 L138.53,473.23 L139.57,474.07 L140.61,474.95 L141.66,475.85 L142.7,476.78 L143.74,477.73 L144.78,478.71 L145.82,479.72 L146.86,480.76 L147.9,481.82 L148.95,482.9 L149.99,484.01 L151.03,485.14 L152.07,486.29 L153.11,487.47 L154.15,488.66 L155.2,489.87 L156.24,491.1 L157.28,492.34 L158.32,493.59 L159.36,494.86 L160.4,496.13 L161.45,497.41 L162.49,498.7 L163.53,499.99 L164.57,501.28 L165.61,502.57 L166.65,503.86 L167.69,505.15 L168.74,506.43 L169.78,507.7 L170.82,508.96 L171.86,510.21 L172.9,511.45 L173.94,512.67 L174.99,513.87 L176.03,515.06 L177.07,516.23 L178.11,517.37 L179.15,518.5 L180.19,519.6 L181.23,520.67 L182.28,521.72 L183.32,522.75 L184.36,523.75 L185.4,524.72 L186.44,525.67 L187.48,526.59 L188.53,527.48 L189.57,528.35 L190.61,529.18 L191.65,529.99 L192.69,530.77 L193.73,531.53 L194.78,532.26 L195.82,532.96 L196.86,533.63 L197.9,534.28" fill="none" stroke="#111" stroke-width="1.3" stroke-dasharray="1.3,1.2" stroke-linecap="butt"/>
<path d="M72.91,455.51 L73.95,455.57 L75,455.63 L76.04,455.7 L77.08,455.77 L78.12,455.84 L79.16,455.92 L80.2,456 L81.24,456.09 L82.29,456.18 L83.33,456.28 L84.37,456.38 L85.41,456.49 L86.45,456.61 L87.49,456.73 L88.54,456.85 L89.58,456.99 L90.62,457.13 L91.66,457.28 L92.7,457.43 L93.74,457.6 L94.79,457.77 L95.83,457.95 L96.87,458.15 L97.91,458.35 L98.95,458.56 L99.99,458.79 L101.03,459.02 L102.08,459.27 L103.12,459.53 L104.16,459.8 L105.2,460.09 L106.24,460.39 L107.28,460.71 L108.33,461.04 L109.37,461.39 L110.41,461.75 L111.45,462.13 L112.49,462.53 L113.53,462.95 L114.57,463.39 L115.62,463.85 L116.66,464.33 L117.7,464.83 L118.74,465.36 L119.78,465.9 L120.82,466.47 L121.87,467.06 L122.91,467.68 L123.95,468.32 L124.99,468.99 L126.03,469.69 L127.07,470.41 L128.12,471.15 L129.16,471.93 L130.2,472.73 L131.24,473.56 L132.28,474.41 L133.32,475.3 L134.36,476.21 L135.41,477.15 L136.45,478.12 L137.49,479.11 L138.53,480.13 L139.57,481.17 L140.61,482.24 L141.66,483.34 L142.7,484.45 L143.74,485.59 L144.78,486.75 L145.82,487.93 L146.86,489.13 L147.9,490.35 L148.95,491.58 L149.99,492.83 L151.03,494.09 L152.07,495.35 L153.11,496.63 L154.15,497.92 L155.2,499.21 L156.24,500.5 L157.28,501.79 L158.32,503.08 L159.36,504.37 L160.4,505.65 L161.45,506.93 L162.49,508.2 L163.53,509.45 L164.57,510.7 L165.61,511.93 L166.65,513.14 L167.69,514.34 L168.74,515.52 L169.78,516.68 L170.82,517.82 L171.86,518.93 L172.9,520.02 L173.94,521.09 L174.99,522.13 L176.03,523.15 L177.07,524.14 L178.11,525.1 L179.15,526.04 L180.19,526.94 L181.23,527.82 L182.28,528.68 L183.32,529.5 L184.36,530.3 L185.4,531.07 L186.44,531.82 L187.48,532.54 L188.53,533.23 L189.57,533.89 L190.61,534.53 L191.65,535.15 L192.69,535.74 L193.73,536.3 L194.78,536.85 L195.82,537.37 L196.86,537.87 L197.9,538.34" fill="none" stroke="#111" stroke-width="1.8" stroke-linecap="butt"/>
<rect x="70.41" y="451" width="5.0" height="5.0" fill="#eec592"/>
<rect x="101.66" y="451" width="5.0" height="5.0" fill="#eec592"/>
<rect x="132.91" y="451" width="5.0" height="5.0" fill="#eec592"/>
<rect x="164.15" y="451" width="5.0" height="5.0" fill="#eec592"/>
<rect x="195.4" y="451" width="5.0" height="5.0" fill="#eec592"/>
<line x1="72.91" y1="452.09" x2="72.91" y2="456.8" stroke="#111" stroke-width="1.0" />
<line x1="70.31" y1="452.09" x2="75.51" y2="452.09" stroke="#111" stroke-width="1.0" />
<line x1="70.31" y1="456.8" x2="75.51" y2="456.8" stroke="#111" stroke-width="1.0" />
<rect x="70.21" y="451.74" width="5.4" height="5.4" fill="#111"/>
<line x1="104.16" y1="453.5" x2="104.16" y2="463.86" stroke="#111" stroke-width="1.0" />
<line x1="101.56" y1="453.5" x2="106.76" y2="453.5" stroke="#111" stroke-width="1.0" />
<line x1="101.56" y1="463.86" x2="106.76" y2="463.86" stroke="#111" stroke-width="1.0" />
<circle cx="104.16" cy="454.44" r="2.3" fill="#111"/>
<path d="M104.16,461.25 L106.46,456.61 L101.86,456.61 Z" fill="#111"/>
<line x1="135.41" y1="464.8" x2="135.41" y2="490.24" stroke="#111" stroke-width="1.0" />
<line x1="132.81" y1="464.8" x2="138.01" y2="464.8" stroke="#111" stroke-width="1.0" />
<line x1="132.81" y1="490.24" x2="138.01" y2="490.24" stroke="#111" stroke-width="1.0" />
<circle cx="135.41" cy="472.34" r="2.3" fill="#111"/>
<path d="M135.41,477.22 L137.81,482.04 L133.01,482.04 Z" fill="#111"/>
<line x1="166.65" y1="494.01" x2="166.65" y2="502.48" stroke="#111" stroke-width="1.0" />
<line x1="164.05" y1="494.01" x2="169.25" y2="494.01" stroke="#111" stroke-width="1.0" />
<line x1="164.05" y1="502.48" x2="169.25" y2="502.48" stroke="#111" stroke-width="1.0" />
<circle cx="166.65" cy="498.25" r="2.3" fill="#111"/>
<circle cx="166.65" cy="508.61" r="2.3" fill="#111"/>
<line x1="197.9" y1="531.69" x2="197.9" y2="539.22" stroke="#111" stroke-width="1.0" />
<line x1="195.3" y1="531.69" x2="200.5" y2="531.69" stroke="#111" stroke-width="1.0" />
<line x1="195.3" y1="539.22" x2="200.5" y2="539.22" stroke="#111" stroke-width="1.0" />
<circle cx="197.9" cy="535.45" r="2.3" fill="#111"/>
<path d="M197.9,546.5 L200.2,541.86 L195.6,541.86 Z" fill="#111"/>
<text x="247.5" y="396.4" font-size="12.6" text-anchor="start" font-weight="bold" stroke="#111" stroke-width="0.1" fill="#111" >E</text>
<text x="371.6" y="409.2" font-size="10.2" text-anchor="middle" font-weight="bold" stroke="#111" stroke-width="0.35" fill="#111" >H929</text>
<text transform="translate(260,488.7) rotate(-90)" font-size="9.8" text-anchor="middle" fill="#111" stroke="#111" stroke-width="0.2" textLength="43.5" lengthAdjust="spacingAndGlyphs">% viability</text>
<text transform="translate(273.2,487.8) rotate(-90)" font-size="9.6" text-anchor="middle" fill="#111" stroke="#111" stroke-width="0.2" textLength="135.5" lengthAdjust="spacingAndGlyphs">(CTG assay normalized to DMSO)</text>
<line x1="299.5" y1="425.4" x2="299.5" y2="548.3" stroke="#111" stroke-width="1.4" />
<line x1="296.1" y1="547.6" x2="299.5" y2="547.6" stroke="#111" stroke-width="1.3" />
<text transform="translate(293,550.6) scale(0.88,1)" font-size="9" text-anchor="end" stroke="#111" stroke-width="0.2" fill="#111" >0</text>
<line x1="296.1" y1="500.4" x2="299.5" y2="500.4" stroke="#111" stroke-width="1.3" />
<text transform="translate(293,503.4) scale(0.88,1)" font-size="9" text-anchor="end" stroke="#111" stroke-width="0.2" fill="#111" >50</text>
<line x1="296.1" y1="453.2" x2="299.5" y2="453.2" stroke="#111" stroke-width="1.3" />
<text transform="translate(293,456.2) scale(0.88,1)" font-size="9" text-anchor="end" stroke="#111" stroke-width="0.2" fill="#111" >100</text>
<line x1="298.8" y1="547.6" x2="443" y2="547.6" stroke="#111" stroke-width="1.4" />
<line x1="299.6" y1="547.6" x2="299.6" y2="550.6" stroke="#111" stroke-width="1.3" />
<text transform="translate(299.6,561.8) scale(0.9,1)" font-size="8.8" text-anchor="middle" stroke="#111" stroke-width="0.2" fill="#111" >0.001</text>
<line x1="334.15" y1="547.6" x2="334.15" y2="550.6" stroke="#111" stroke-width="1.3" />
<text transform="translate(334.15,561.8) scale(0.9,1)" font-size="8.8" text-anchor="middle" stroke="#111" stroke-width="0.2" fill="#111" >0.01</text>
<line x1="368.7" y1="547.6" x2="368.7" y2="550.6" stroke="#111" stroke-width="1.3" />
<text transform="translate(368.7,561.8) scale(0.9,1)" font-size="8.8" text-anchor="middle" stroke="#111" stroke-width="0.2" fill="#111" >0.1</text>
<line x1="403.25" y1="547.6" x2="403.25" y2="550.6" stroke="#111" stroke-width="1.3" />
<text transform="translate(403.25,561.8) scale(0.9,1)" font-size="8.8" text-anchor="middle" stroke="#111" stroke-width="0.2" fill="#111" >1</text>
<line x1="437.8" y1="547.6" x2="437.8" y2="550.6" stroke="#111" stroke-width="1.3" />
<text transform="translate(437.8,561.8) scale(0.9,1)" font-size="8.8" text-anchor="middle" stroke="#111" stroke-width="0.2" fill="#111" >10</text>
<text x="371.2" y="576.2" font-size="10.0" text-anchor="middle" stroke="#111" stroke-width="0.2" fill="#111" textLength="67" lengthAdjust="spacingAndGlyphs">Compound (μM)</text>
<line x1="299.5" y1="500.4" x2="438.5" y2="500.4" stroke="#111" stroke-width="1.35" stroke-dasharray="4,2.9"/>
<path d="M312.99,453.2 L314.03,453.2 L315.07,453.2 L316.11,453.2 L317.15,453.2 L318.19,453.2 L319.23,453.2 L320.27,453.2 L321.31,453.2 L322.35,453.2 L323.39,453.2 L324.43,453.2 L325.47,453.2 L326.51,453.2 L327.55,453.2 L328.59,453.2 L329.63,453.2 L330.67,453.2 L331.71,453.2 L332.75,453.2 L333.79,453.2 L334.83,453.2 L335.87,453.2 L336.91,453.2 L337.95,453.2 L338.99,453.2 L340.03,453.2 L341.07,453.2 L342.11,453.2 L343.15,453.2 L344.19,453.2 L345.23,453.2 L346.27,453.2 L347.31,453.2 L348.35,453.2 L349.4,453.2 L350.44,453.2 L351.48,453.2 L352.52,453.2 L353.56,453.2 L354.6,453.2 L355.64,453.2 L356.68,453.2 L357.72,453.2 L358.76,453.2 L359.8,453.2 L360.84,453.2 L361.88,453.2 L362.92,453.2 L363.96,453.2 L365,453.2 L366.04,453.2 L367.08,453.2 L368.12,453.2 L369.16,453.2 L370.2,453.2 L371.24,453.2 L372.28,453.2 L373.32,453.2 L374.36,453.2 L375.4,453.2 L376.44,453.2 L377.48,453.2 L378.52,453.2 L379.56,453.2 L380.6,453.2 L381.64,453.2 L382.68,453.2 L383.72,453.2 L384.76,453.2 L385.8,453.2 L386.84,453.2 L387.88,453.2 L388.92,453.2 L389.96,453.2 L391,453.2 L392.04,453.2 L393.08,453.2 L394.12,453.2 L395.16,453.2 L396.2,453.2 L397.24,453.2 L398.28,453.2 L399.32,453.2 L400.36,453.2 L401.4,453.21 L402.44,453.21 L403.48,453.21 L404.52,453.21 L405.56,453.21 L406.6,453.22 L407.64,453.22 L408.68,453.22 L409.72,453.23 L410.76,453.24 L411.8,453.25 L412.84,453.26 L413.88,453.27 L414.92,453.28 L415.96,453.3 L417,453.33 L418.04,453.36 L419.08,453.39 L420.12,453.44 L421.16,453.49 L422.2,453.56 L423.24,453.64 L424.28,453.74 L425.32,453.87 L426.36,454.02 L427.4,454.21 L428.44,454.44 L429.48,454.72 L430.52,455.07 L431.56,455.49 L432.6,456.01 L433.64,456.63 L434.68,457.39 L435.72,458.3 L436.76,459.41 L437.8,460.73" fill="none" stroke="#dcaa68" stroke-width="1.3" stroke-dasharray="1.3,1.2" stroke-linecap="butt"/>
<path d="M312.99,453.2 L314.03,453.2 L315.07,453.2 L316.11,453.2 L317.15,453.2 L318.19,453.2 L319.23,453.2 L320.27,453.2 L321.31,453.2 L322.35,453.2 L323.39,453.2 L324.43,453.2 L325.47,453.2 L326.51,453.2 L327.55,453.2 L328.59,453.2 L329.63,453.2 L330.67,453.2 L331.71,453.2 L332.75,453.2 L333.79,453.2 L334.83,453.2 L335.87,453.2 L336.91,453.2 L337.95,453.2 L338.99,453.2 L340.03,453.2 L341.07,453.2 L342.11,453.2 L343.15,453.2 L344.19,453.2 L345.23,453.2 L346.27,453.2 L347.31,453.2 L348.35,453.2 L349.4,453.2 L350.44,453.2 L351.48,453.2 L352.52,453.2 L353.56,453.2 L354.6,453.2 L355.64,453.2 L356.68,453.2 L357.72,453.2 L358.76,453.2 L359.8,453.2 L360.84,453.2 L361.88,453.2 L362.92,453.2 L363.96,453.2 L365,453.2 L366.04,453.2 L367.08,453.2 L368.12,453.2 L369.16,453.2 L370.2,453.2 L371.24,453.2 L372.28,453.2 L373.32,453.2 L374.36,453.2 L375.4,453.2 L376.44,453.2 L377.48,453.2 L378.52,453.2 L379.56,453.2 L380.6,453.2 L381.64,453.2 L382.68,453.2 L383.72,453.2 L384.76,453.2 L385.8,453.2 L386.84,453.2 L387.88,453.2 L388.92,453.2 L389.96,453.2 L391,453.2 L392.04,453.2 L393.08,453.2 L394.12,453.2 L395.16,453.2 L396.2,453.2 L397.24,453.2 L398.28,453.2 L399.32,453.2 L400.36,453.2 L401.4,453.2 L402.44,453.2 L403.48,453.2 L404.52,453.2 L405.56,453.2 L406.6,453.2 L407.64,453.2 L408.68,453.2 L409.72,453.2 L410.76,453.2 L411.8,453.2 L412.84,453.2 L413.88,453.21 L414.92,453.21 L415.96,453.22 L417,453.23 L418.04,453.25 L419.08,453.29 L420.12,453.35 L421.16,453.47 L422.2,453.67 L423.24,454.01 L424.28,454.6 L425.32,455.61 L426.36,457.32 L427.4,460.15 L428.44,464.67 L429.48,471.52 L430.52,481.09 L431.56,493.03 L432.6,506.03 L433.64,518.22 L434.68,528.15 L435.72,535.35 L436.76,540.15 L437.8,543.18" fill="none" stroke="#dcaa68" stroke-width="1.4" stroke-linecap="butt"/>
<path d="M312.99,455.04 L314.03,455.17 L315.07,455.31 L316.11,455.46 L317.15,455.62 L318.19,455.79 L319.23,455.97 L320.27,456.16 L321.31,456.36 L322.35,456.58 L323.39,456.82 L324.43,457.07 L325.47,457.33 L326.51,457.61 L327.55,457.92 L328.59,458.24 L329.63,458.58 L330.67,458.94 L331.71,459.32 L332.75,459.73 L333.79,460.17 L334.83,460.63 L335.87,461.12 L336.91,461.63 L337.95,462.18 L338.99,462.76 L340.03,463.37 L341.07,464.02 L342.11,464.7 L343.15,465.42 L344.19,466.18 L345.23,466.97 L346.27,467.81 L347.31,468.69 L348.35,469.6 L349.4,470.56 L350.44,471.57 L351.48,472.62 L352.52,473.71 L353.56,474.84 L354.6,476.02 L355.64,477.24 L356.68,478.5 L357.72,479.81 L358.76,481.15 L359.8,482.53 L360.84,483.95 L361.88,485.41 L362.92,486.89 L363.96,488.41 L365,489.95 L366.04,491.52 L367.08,493.11 L368.12,494.71 L369.16,496.33 L370.2,497.96 L371.24,499.59 L372.28,501.23 L373.32,502.86 L374.36,504.49 L375.4,506.11 L376.44,507.71 L377.48,509.3 L378.52,510.87 L379.56,512.41 L380.6,513.92 L381.64,515.41 L382.68,516.86 L383.72,518.28 L384.76,519.67 L385.8,521.01 L386.84,522.31 L387.88,523.58 L388.92,524.8 L389.96,525.97 L391,527.11 L392.04,528.2 L393.08,529.24 L394.12,530.25 L395.16,531.21 L396.2,532.13 L397.24,533 L398.28,533.84 L399.32,534.63 L400.36,535.39 L401.4,536.11 L402.44,536.79 L403.48,537.43 L404.52,538.05 L405.56,538.62 L406.6,539.17 L407.64,539.69 L408.68,540.18 L409.72,540.64 L410.76,541.07 L411.8,541.48 L412.84,541.87 L413.88,542.23 L414.92,542.57 L415.96,542.89 L417,543.19 L418.04,543.47 L419.08,543.74 L420.12,543.99 L421.16,544.22 L422.2,544.44 L423.24,544.64 L424.28,544.84 L425.32,545.02 L426.36,545.18 L427.4,545.34 L428.44,545.49 L429.48,545.63 L430.52,545.76 L431.56,545.88 L432.6,545.99 L433.64,546.1 L434.68,546.2 L435.72,546.29 L436.76,546.38 L437.8,546.46" fill="none" stroke="#111" stroke-width="1.3" stroke-dasharray="1.3,1.2" stroke-linecap="butt"/>
<path d="M312.99,454.23 L314.03,454.29 L315.07,454.36 L316.11,454.44 L317.15,454.52 L318.19,454.6 L319.23,454.69 L320.27,454.78 L321.31,454.88 L322.35,454.99 L323.39,455.1 L324.43,455.22 L325.47,455.35 L326.51,455.48 L327.55,455.63 L328.59,455.78 L329.63,455.94 L330.67,456.11 L331.71,456.29 L332.75,456.49 L333.79,456.69 L334.83,456.9 L335.87,457.13 L336.91,457.38 L337.95,457.63 L338.99,457.9 L340.03,458.19 L341.07,458.49 L342.11,458.81 L343.15,459.15 L344.19,459.51 L345.23,459.89 L346.27,460.28 L347.31,460.7 L348.35,461.15 L349.4,461.61 L350.44,462.1 L351.48,462.62 L352.52,463.16 L353.56,463.73 L354.6,464.33 L355.64,464.96 L356.68,465.61 L357.72,466.3 L358.76,467.02 L359.8,467.77 L360.84,468.56 L361.88,469.38 L362.92,470.23 L363.96,471.12 L365,472.04 L366.04,473 L367.08,473.99 L368.12,475.02 L369.16,476.09 L370.2,477.19 L371.24,478.32 L372.28,479.49 L373.32,480.69 L374.36,481.92 L375.4,483.18 L376.44,484.47 L377.48,485.79 L378.52,487.13 L379.56,488.5 L380.6,489.89 L381.64,491.3 L382.68,492.72 L383.72,494.16 L384.76,495.61 L385.8,497.07 L386.84,498.54 L387.88,500.01 L388.92,501.49 L389.96,502.96 L391,504.42 L392.04,505.88 L393.08,507.32 L394.12,508.76 L395.16,510.18 L396.2,511.58 L397.24,512.95 L398.28,514.31 L399.32,515.64 L400.36,516.95 L401.4,518.22 L402.44,519.47 L403.48,520.69 L404.52,521.87 L405.56,523.02 L406.6,524.14 L407.64,525.22 L408.68,526.27 L409.72,527.28 L410.76,528.26 L411.8,529.2 L412.84,530.11 L413.88,530.98 L414.92,531.82 L415.96,532.62 L417,533.39 L418.04,534.13 L419.08,534.83 L420.12,535.5 L421.16,536.15 L422.2,536.76 L423.24,537.34 L424.28,537.9 L425.32,538.43 L426.36,538.93 L427.4,539.41 L428.44,539.87 L429.48,540.3 L430.52,540.71 L431.56,541.1 L432.6,541.46 L433.64,541.81 L434.68,542.14 L435.72,542.45 L436.76,542.75 L437.8,543.03" fill="none" stroke="#111" stroke-width="1.8" stroke-linecap="butt"/>
<rect x="310.49" y="450.7" width="5.0" height="5.0" fill="#eec592"/>
<line x1="344.19" y1="445.65" x2="344.19" y2="454.62" stroke="#e0ae6e" stroke-width="1.0" />
<line x1="341.59" y1="445.65" x2="346.79" y2="445.65" stroke="#e0ae6e" stroke-width="1.0" />
<line x1="341.59" y1="454.62" x2="346.79" y2="454.62" stroke="#e0ae6e" stroke-width="1.0" />
<rect x="341.69" y="447.87" width="5.0" height="5.0" fill="#eec592"/>
<line x1="375.4" y1="448.95" x2="375.4" y2="456.5" stroke="#e0ae6e" stroke-width="1.0" />
<line x1="372.8" y1="448.95" x2="378" y2="448.95" stroke="#e0ae6e" stroke-width="1.0" />
<line x1="372.8" y1="456.5" x2="378" y2="456.5" stroke="#e0ae6e" stroke-width="1.0" />
<rect x="372.9" y="449.76" width="5.0" height="5.0" fill="#eec592"/>
<line x1="406.6" y1="450.37" x2="406.6" y2="461.22" stroke="#e0ae6e" stroke-width="1.0" />
<line x1="404" y1="450.37" x2="409.2" y2="450.37" stroke="#e0ae6e" stroke-width="1.0" />
<line x1="404" y1="461.22" x2="409.2" y2="461.22" stroke="#e0ae6e" stroke-width="1.0" />
<rect x="404.1" y="451.64" width="5.0" height="5.0" fill="#eec592"/>
<line x1="437.8" y1="457.45" x2="437.8" y2="465" stroke="#e0ae6e" stroke-width="1.0" />
<line x1="435.2" y1="457.45" x2="440.4" y2="457.45" stroke="#e0ae6e" stroke-width="1.0" />
<line x1="435.2" y1="465" x2="440.4" y2="465" stroke="#e0ae6e" stroke-width="1.0" />
<rect x="435.3" y="458.25" width="5.0" height="5.0" fill="#eec592"/>
<line x1="312.99" y1="448.01" x2="312.99" y2="456.98" stroke="#111" stroke-width="1.0" />
<line x1="310.39" y1="448.01" x2="315.59" y2="448.01" stroke="#111" stroke-width="1.0" />
<line x1="310.39" y1="456.98" x2="315.59" y2="456.98" stroke="#111" stroke-width="1.0" />
<rect x="310.19" y="450.4" width="5.6" height="5.6" fill="#111"/>
<circle cx="344.19" cy="456.98" r="2.3" fill="#111"/>
<circle cx="344.19" cy="465.47" r="2.3" fill="#111"/>
<line x1="375.4" y1="480.58" x2="375.4" y2="490.02" stroke="#111" stroke-width="1.0" />
<line x1="372.8" y1="480.58" x2="378" y2="480.58" stroke="#111" stroke-width="1.0" />
<line x1="372.8" y1="490.02" x2="378" y2="490.02" stroke="#111" stroke-width="1.0" />
<circle cx="375.4" cy="485.3" r="2.3" fill="#111"/>
<line x1="375.4" y1="505.12" x2="375.4" y2="513.62" stroke="#111" stroke-width="1.0" />
<line x1="372.8" y1="505.12" x2="378" y2="505.12" stroke="#111" stroke-width="1.0" />
<line x1="372.8" y1="513.62" x2="378" y2="513.62" stroke="#111" stroke-width="1.0" />
<circle cx="375.4" cy="509.37" r="2.3" fill="#111"/>
<line x1="406.6" y1="513.62" x2="406.6" y2="528.25" stroke="#111" stroke-width="1.0" />
<line x1="404" y1="513.62" x2="409.2" y2="513.62" stroke="#111" stroke-width="1.0" />
<line x1="404" y1="528.25" x2="409.2" y2="528.25" stroke="#111" stroke-width="1.0" />
<circle cx="406.6" cy="521.64" r="2.3" fill="#111"/>
<circle cx="406.6" cy="538.35" r="2.3" fill="#111"/>
<circle cx="437.8" cy="546.47" r="2.3" fill="#111"/>
<line x1="412.7" y1="381.1" x2="425.2" y2="381.1" stroke="#111" stroke-width="1.6" />
<circle cx="418.9" cy="381.1" r="2.2" fill="#111"/>
<text transform="translate(429.2,383.9) scale(0.946,1)" font-size="8.4" text-anchor="start" stroke="#111" stroke-width="0.2" fill="#111" >WT+obatoclax</text>
<line x1="412.7" y1="395.3" x2="425.2" y2="395.3" stroke="#111" stroke-width="1.3" stroke-dasharray="1.3,1.2"/>
<circle cx="418.9" cy="395.3" r="2.2" fill="#111"/>
<text transform="translate(429.2,398.1) scale(0.946,1)" font-size="8.4" fill="#111" stroke="#111" stroke-width="0.2">BAX<tspan font-size="5.96" dy="-3.02">-/-</tspan><tspan font-size="8.4" dy="3.02">BAK</tspan><tspan font-size="5.96" dy="-3.02">-/-</tspan><tspan font-size="8.4" dy="3.02">+obatoclax</tspan></text>
<line x1="412.7" y1="409.6" x2="425.2" y2="409.6" stroke="#e0ae6e" stroke-width="1.4" />
<rect x="416.8" y="407.5" width="4.2" height="4.2" fill="#eec592"/>
<text transform="translate(429.2,412.4) scale(0.946,1)" font-size="8.4" text-anchor="start" stroke="#111" stroke-width="0.2" fill="#111" >WT+A1210477</text>
<line x1="412.7" y1="424.1" x2="425.2" y2="424.1" stroke="#e0ae6e" stroke-width="1.3" stroke-dasharray="1.3,1.2"/>
<rect x="416.8" y="422" width="4.2" height="4.2" fill="#eec592"/>
<text transform="translate(429.2,426.9) scale(0.946,1)" font-size="8.4" fill="#111" stroke="#111" stroke-width="0.2">BAX<tspan font-size="5.96" dy="-3.02">-/-</tspan><tspan font-size="8.4" dy="3.02">BAK</tspan><tspan font-size="5.96" dy="-3.02">-/-</tspan><tspan font-size="8.4" dy="3.02">+A1210477</tspan></text>
<rect x="0.5" y="0.5" width="519" height="584" fill="none" stroke="#111" stroke-width="1.2"/>
</svg></body></html>
